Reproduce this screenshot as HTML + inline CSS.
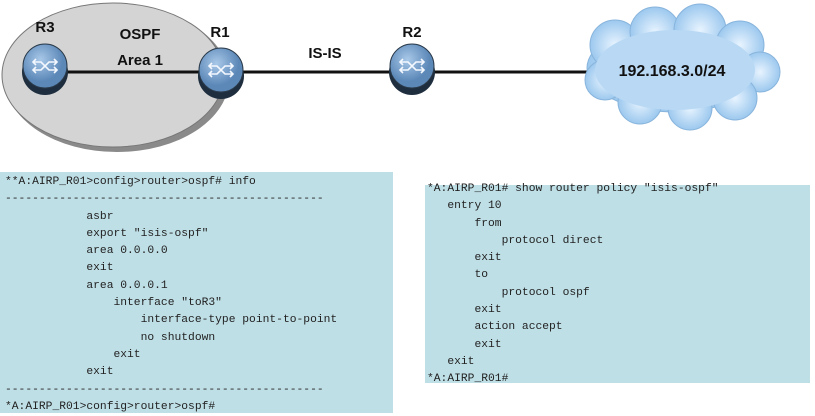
<!DOCTYPE html>
<html><head><style>
body{margin:0;width:815px;height:413px;background:#fff;position:relative;overflow:hidden;font-family:"Liberation Sans",sans-serif}
.box{position:absolute;background:#bfdfe6}
pre{margin:0;position:absolute;font-family:"Liberation Mono",monospace;font-size:11.3px;line-height:17.3px;color:#222}
</style></head><body>
<svg width="815" height="170" style="position:absolute;left:0;top:0">
<defs>
<radialGradient id="rg" cx="40%" cy="35%"><stop offset="0" stop-color="#a8c8e8"/><stop offset="1" stop-color="#5c88b8"/></radialGradient>
<radialGradient id="cl" cx="50%" cy="50%"><stop offset="0" stop-color="#e8f4ff"/><stop offset="1" stop-color="#9cc8ee"/></radialGradient>
<g id="rt">
<ellipse cx="0" cy="6" rx="23" ry="23" fill="#1e2e3e"/>
<circle cx="0" cy="0" r="22" fill="url(#rg)" stroke="#2a3a4a" stroke-width="1"/>
<g stroke="#f4f8ff" stroke-width="1.6" fill="none">
<path d="M-12 -4 L-4 -4 L4 4 L12 4 M-12 4 L-4 4 L4 -4 L12 -4"/>
<path d="M-9 -7 L-12 -4 L-9 -1 M9 1 L12 4 L9 7 M-9 1 L-12 4 L-9 7 M9 -7 L12 -4 L9 -1"/>
</g></g>
</defs>
<ellipse cx="117" cy="79" rx="112" ry="73" fill="#8a8a8a"/>
<ellipse cx="113" cy="75" rx="111" ry="72" fill="#d4d4d4" stroke="#777" stroke-width="1"/>
<line x1="45" y1="72" x2="590" y2="72" stroke="#111" stroke-width="3"/>
<g fill="url(#cl)" stroke="#88b4dc" stroke-width="1">
<ellipse cx="675" cy="68" rx="88" ry="44"/>
<circle cx="615" cy="45" r="25"/><circle cx="655" cy="32" r="25"/><circle cx="700" cy="30" r="26"/><circle cx="740" cy="45" r="24"/>
<circle cx="760" cy="72" r="20"/><circle cx="735" cy="98" r="22"/><circle cx="690" cy="108" r="22"/><circle cx="640" cy="102" r="22"/><circle cx="605" cy="80" r="20"/>
</g>
<ellipse cx="675" cy="70" rx="80" ry="40" fill="#b8d8f4"/>
<use href="#rt" x="45" y="66"/><use href="#rt" x="221" y="70"/><use href="#rt" x="412" y="66"/>
<g font-family="Liberation Sans,sans-serif" font-weight="bold" font-size="15" fill="#111" text-anchor="middle">
<text x="45" y="32">R3</text><text x="140" y="39">OSPF</text><text x="140" y="65">Area 1</text>
<text x="220" y="37">R1</text><text x="325" y="58">IS-IS</text><text x="412" y="37">R2</text>
<text x="672" y="76" font-size="16">192.168.3.0/24</text>
</g>
</svg>
<div class="box" style="left:0;top:172px;width:393px;height:241px"></div>
<pre style="left:5px;top:174px">**A:AIRP_R01>config>router>ospf# info
-----------------------------------------------
            asbr
            export "isis-ospf"
            area 0.0.0.0
            exit
            area 0.0.0.1
                interface "toR3"
                    interface-type point-to-point
                    no shutdown
                exit
            exit
-----------------------------------------------
*A:AIRP_R01>config>router>ospf#</pre>
<div class="box" style="left:425px;top:185px;width:385px;height:198px"></div>
<pre style="left:427px;top:181px">*A:AIRP_R01# show router policy "isis-ospf"
   entry 10
       from
           protocol direct
       exit
       to
           protocol ospf
       exit
       action accept
       exit
   exit
*A:AIRP_R01#</pre>
</body></html>
